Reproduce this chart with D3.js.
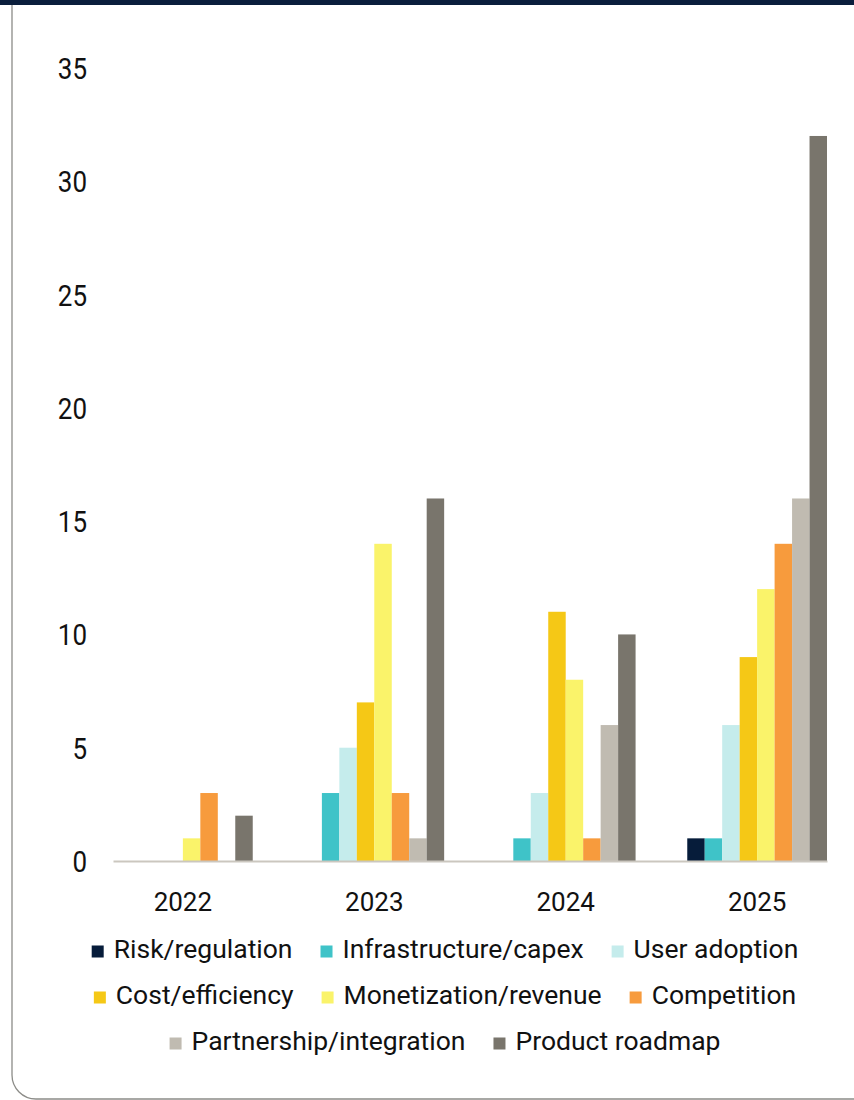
<!DOCTYPE html>
<html>
<head>
<meta charset="utf-8">
<script src="https://cdn.jsdelivr.net/npm/d3@7"></script>
<style>
  html, body { margin: 0; padding: 0; background: #ffffff; }
  svg { display: block; font-family: Roboto, "Noto Sans", sans-serif; }
</style>
</head>
<body>
<svg id="chart" width="854" height="1100"></svg>
<script>
// Mentions of each theme by year
const years = ["2022", "2023", "2024", "2025"];
const themes = [
  "Risk/regulation", "Infrastructure/capex", "User adoption",
  "Cost/efficiency", "Monetization/revenue", "Competition",
  "Partnership/integration", "Product roadmap"
];
const riskRegulation      = [0, 0, 0, 1];
const infrastructureCapex = [0, 3, 1, 1];
const userAdoption        = [0, 5, 3, 6];
const costEfficiency      = [0, 7, 11, 9];
const monetizationRevenue = [1, 14, 8, 12];
const competition         = [3, 3, 1, 14];
const partnership         = [0, 1, 6, 16];
const productRoadmap      = [2, 16, 10, 32];
const yTicks = [0, 5, 10, 15, 20, 25, 30, 35];
const themeColors = ["#061c3a", "#3fc3c8", "#c5ecec", "#f5c816", "#faf36a", "#f79b3d", "#c0bbb1", "#79756c"];

const seriesValues = [riskRegulation, infrastructureCapex, userAdoption, costEfficiency,
  monetizationRevenue, competition, partnership, productRoadmap];

const svg = d3.select("#chart");

// Card frame with rounded lower corner and dark header strip
svg.append("rect")
  .attr("x", 12).attr("y", -40)
  .attr("width", 900).attr("height", 1139)
  .attr("rx", 24)
  .attr("fill", "#ffffff")
  .attr("stroke", "#8c8c88")
  .attr("stroke-width", 1.3);
svg.append("rect")
  .attr("x", 0).attr("y", 0)
  .attr("width", 854).attr("height", 5)
  .attr("fill", "#0a1e3c");

const x0 = d3.scaleBand().domain(years).range([113, 827]).paddingInner(0.27).paddingOuter(0);
const x1 = d3.scaleBand().domain(themes).range([0, x0.bandwidth()]).padding(0);
const y = d3.scaleLinear().domain([0, 35]).range([861, 68]);
const color = d3.scaleOrdinal().domain(themes).range(themeColors);

// Y axis labels only (tall, slightly narrowed numerals)
const yAxis = d3.axisLeft(y).tickValues(yTicks).tickSize(0).tickPadding(0);
const gy = svg.append("g").attr("transform", "translate(87,0)").call(yAxis);
gy.select(".domain").remove();
gy.selectAll(".tick text")
  .attr("x", 0)
  .attr("dy", null)
  .attr("y", 10.5)
  .attr("transform", "scale(0.88,1)")
  .attr("font-family", "Roboto, sans-serif")
  .attr("font-size", 29.5)
  .attr("fill", "#111111");

// Grouped bars
const groups = svg.append("g").selectAll("g")
  .data(years)
  .join("g")
  .attr("transform", d => `translate(${x0(d)},0)`);

groups.selectAll("rect")
  .data((yr, i) => themes.map((t, k) => ({ theme: t, value: seriesValues[k][i] })))
  .join("rect")
  .attr("x", d => x1(d.theme))
  .attr("width", x1.bandwidth())
  .attr("y", d => y(d.value))
  .attr("height", d => y(0) - y(d.value))
  .attr("fill", d => color(d.theme));

// Baseline and category labels
const xAxis = d3.axisBottom(x0).tickSize(0).tickPadding(0);
const gx = svg.append("g").attr("transform", "translate(0,861)").call(xAxis);
gx.select(".domain").attr("stroke", "#cbc7bf").attr("stroke-width", 2);
gx.selectAll("text")
  .attr("dy", 0)
  .attr("y", 49.5)
  .attr("font-family", "Roboto, sans-serif")
  .attr("font-size", 26)
  .attr("fill", "#111111");

// Legend, centred rows
const legendRows = [themes.slice(0, 3), themes.slice(3, 6), themes.slice(6)];
const rowBaselines = [958, 1004, 1050];
const legendCenter = 445;
const sw = 12, gapText = 10, gapItem = 28;

legendRows.forEach((row, r) => {
  const g = svg.append("g");
  let cx = 0;
  row.forEach(t => {
    const item = g.append("g").attr("transform", `translate(${cx},0)`);
    item.append("rect")
      .attr("x", 0).attr("y", rowBaselines[r] - 12.5)
      .attr("width", sw).attr("height", sw)
      .attr("fill", color(t));
    const txt = item.append("text")
      .attr("x", sw + gapText).attr("y", rowBaselines[r])
      .attr("font-size", 26.5)
      .attr("fill", "#111111")
      .text(t);
    cx += sw + gapText + txt.node().getComputedTextLength() + gapItem;
  });
  const total = cx - gapItem;
  g.attr("transform", `translate(${legendCenter - total / 2},0)`);
});
</script>
</body>
</html>
